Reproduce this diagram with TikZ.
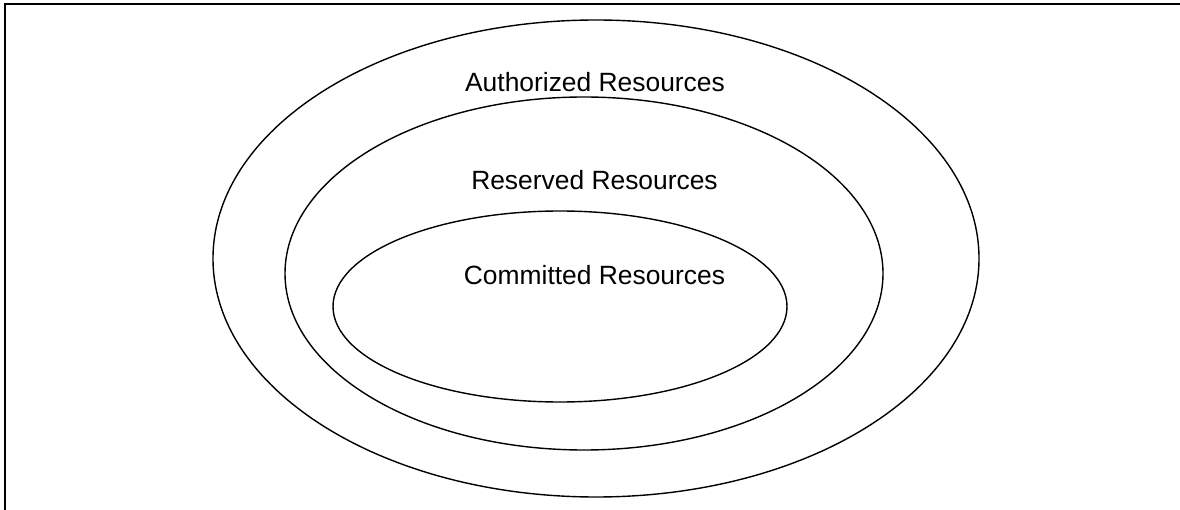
\documentclass[tikz,border=0pt]{standalone}
\usepackage{fontspec}
\setmainfont{Liberation Sans}
\begin{document}
\begin{tikzpicture}[x=1pt,y=-1pt,
  ring/.style={draw=black,line width=1.4pt},
  lbl/.style={anchor=base,inner sep=0pt,font=\fontsize{26.4}{30}\selectfont}]
\useasboundingbox (0,0) rectangle (1180,510);
\fill[white] (0,0) rectangle (1180,510);
\draw[line width=2.2pt] (5,515) -- (5,4) -- (1185,4);
\draw[ring] (596,258.5) ellipse [x radius=383, y radius=238.5];
\draw[ring] (584,273.5) ellipse [x radius=299, y radius=176.5];
\draw[ring] (560,306.5) ellipse [x radius=227, y radius=95.5];
\node[lbl] (auth) at (595,92) {Authorized Resources};
\node[lbl] (res) at (594.5,190) {Reserved Resources};
\node[lbl] (com) at (594.5,285) {Committed Resources};
\end{tikzpicture}
\end{document}
